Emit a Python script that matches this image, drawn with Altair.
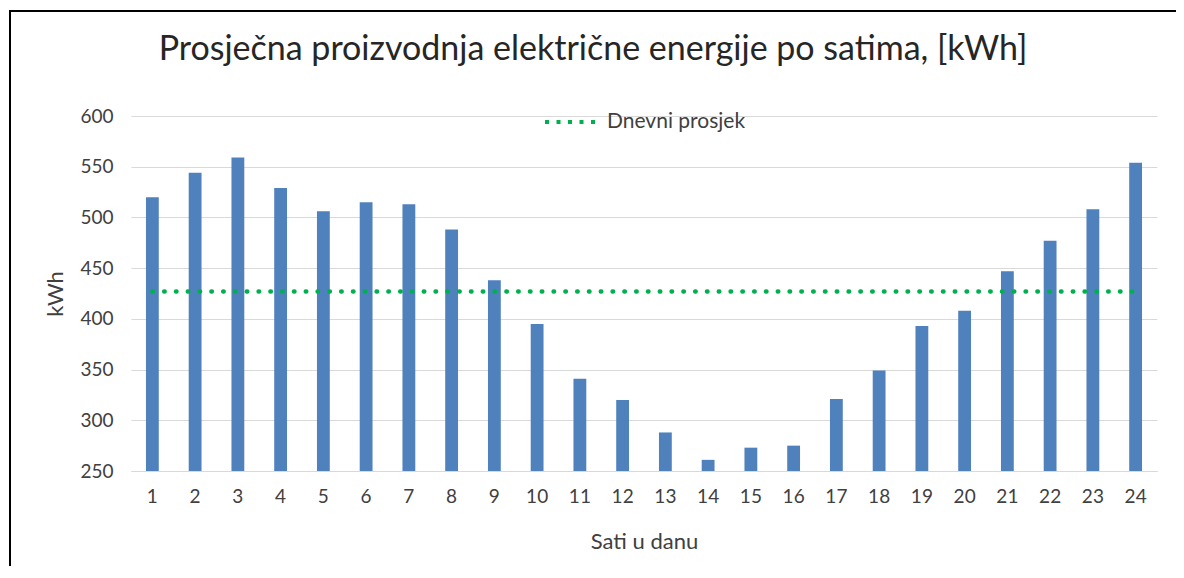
import altair as alt
import pandas as pd

hours = list(range(1, 25))
energy = [520, 544, 559, 529, 506, 515, 513, 488, 438, 395, 341, 320,
          288, 261, 273, 275, 321, 349, 393, 408, 447, 477, 508, 554]
daily_avg = 427
y_ticks = [250, 300, 350, 400, 450, 500, 550, 600]
title_text = "Prosječna proizvodnja električne energije po satima, [kWh]"
legend_label = "Dnevni prosjek"

df = pd.DataFrame({"sat": hours, "kwh": energy})
df_avg = pd.DataFrame({"sat": hours, "avg": [daily_avg] * len(hours), "serija": [legend_label] * len(hours)})

FONT = "Lato"
W, H = 1026, 355
PAD_R, PAD_B = 19, 95
DOTS = [0.5, 11.3]

x_enc = alt.X("sat:O", title="Sati u danu",
              scale=alt.Scale(paddingInner=0.7, paddingOuter=0.35),
              axis=alt.Axis(labelAngle=0, labelFontSize=19, labelColor="#404040", labelFont=FONT,
                            labelPadding=16, ticks=False, domain=True, domainColor="#d9d9d9",
                            titleFontSize=22, titleFont=FONT, titleColor="#404040", titleFontWeight="normal",
                            titlePadding=25))
y_scale = alt.Scale(domain=[250, 600], zero=False, nice=False)

bars = alt.Chart(df).mark_bar(color="#4f81bd").encode(
    x=x_enc,
    y=alt.Y("kwh:Q", scale=y_scale, title="kWh",
            axis=alt.Axis(values=y_ticks, labelFontSize=19, labelColor="#404040", labelFont=FONT,
                          labelPadding=18, ticks=False, domain=False, grid=True, gridColor="#d9d9d9",
                          titleFontSize=22, titleFont=FONT, titleColor="#404040", titleFontWeight="normal",
                          titlePadding=12)),
    y2=alt.datum(250),
)

avg_line = alt.Chart(df_avg).mark_line(strokeWidth=4.5, strokeCap="round", strokeDash=DOTS).encode(
    x="sat:O",
    y=alt.Y("avg:Q", scale=y_scale),
    color=alt.Color("serija:N", scale=alt.Scale(range=["#00b050"]),
                    legend=alt.Legend(title=None, orient="none", legendX=412, legendY=-21,
                                      symbolType="stroke", symbolSize=2500, symbolStrokeWidth=4,
                                      symbolDash=[4, 7.5], symbolOpacity=1, symbolStrokeColor="#00b050",
                                      labelFontSize=21, labelFont=FONT,
                                      labelColor="#404040", labelOffset=10)),
)

frame = pd.DataFrame({"b": [0]})
border_top = alt.Chart(frame).mark_rect(fill="#000000", strokeWidth=0).encode(
    x=alt.value(-122), x2=alt.value(W + PAD_R), y=alt.value(-106), y2=alt.value(-104)
)
border_left = alt.Chart(frame).mark_rect(fill="#000000", strokeWidth=0).encode(
    x=alt.value(-122), x2=alt.value(-120), y=alt.value(-106), y2=alt.value(H + PAD_B)
)

chart = alt.layer(border_top, border_left, bars, avg_line).properties(
    width=W, height=H,
    autosize=alt.AutoSizeParams(type="none"),
    padding={"left": 123, "top": 108, "right": PAD_R, "bottom": PAD_B},
    title=alt.TitleParams(title_text, fontSize=34, font=FONT, color="#262626", fontWeight="normal",
                          anchor="middle", dx=-51, offset=-57),
).configure_view(stroke=None)

chart.save("out.html", embed_options={"renderer": "svg", "actions": False})
